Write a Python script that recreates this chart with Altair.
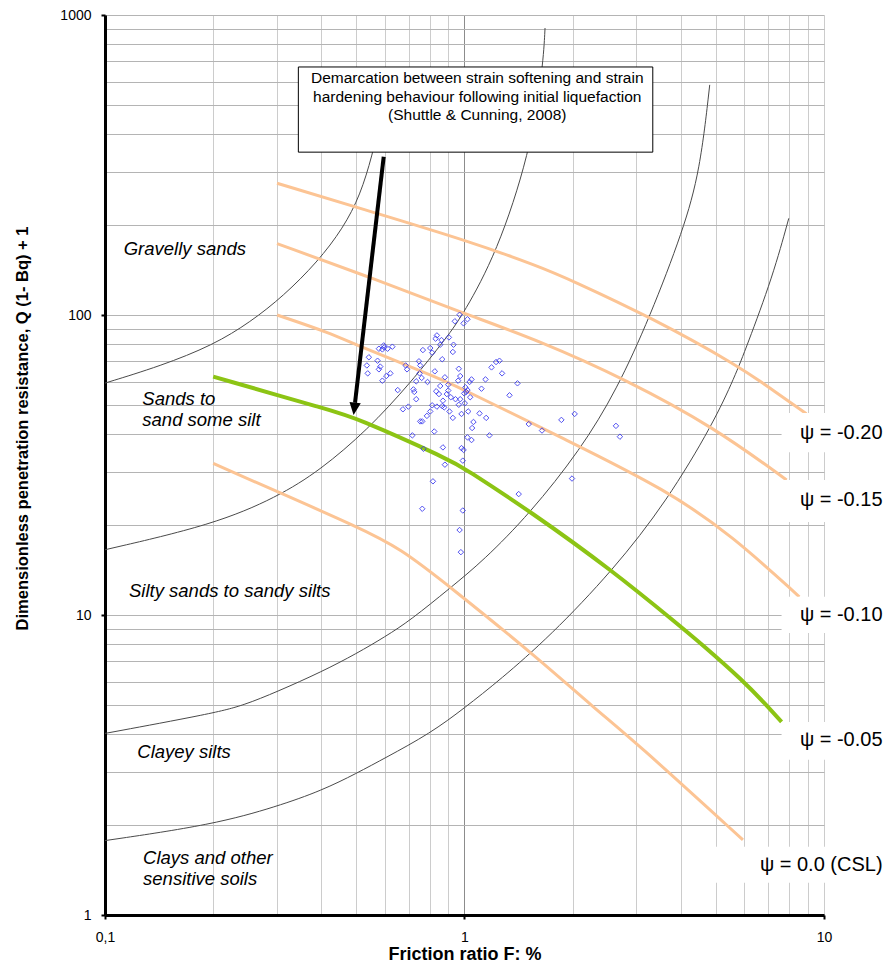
import altair as alt
import pandas as pd

# ---------------- data ----------------
x_grid = [0.1, 0.2, 0.3, 0.4, 0.5, 0.6, 0.7, 0.8, 0.9, 1, 2, 3, 4, 5, 6, 7, 8, 9, 10]
y_grid = [1, 2, 3, 4, 5, 6, 7, 8, 9, 10, 20, 30, 40, 50, 60, 70, 80, 90,
          100, 200, 300, 400, 500, 600, 700, 800, 900, 1000]

# soil-type boundaries (black)
curve_a_x = [0.1, 0.1428, 0.2, 0.254, 0.3135, 0.39, 0.46, 0.513, 0.554, 0.583]
curve_a_y = [59.3, 67.6, 79.4, 94.8, 115.7, 150.2, 195, 251, 341, 447]
curve_b_x = [0.1, 0.2, 0.301, 0.397, 0.537, 0.707, 0.895, 0.994, 1.23, 1.52, 1.654, 1.675]
curve_b_y = [16.5, 20, 24.7, 30.4, 41.4, 59.3, 84.5, 101, 161, 346, 671, 905]
curve_c_x = [0.1, 0.2, 0.243, 0.301, 0.401, 0.502, 0.602, 0.707, 0.912, 1.13, 1.52,
             2.10, 2.65, 3.28, 4.06, 4.52, 4.81]
curve_c_y = [4.03, 4.7, 5.0, 5.55, 6.47, 7.45, 8.47, 9.6, 12.3, 15.2, 21.8,
             35.5, 56.2, 98.6, 192, 303, 585]
curve_d_x = [0.1, 0.2, 0.301, 0.401, 0.502, 0.602, 0.803, 1.0, 1.256, 1.73, 2.59,
             3.65, 4.92, 5.65, 6.09, 7.21, 7.98]
curve_d_y = [1.77, 2.0, 2.3, 2.6, 2.97, 3.34, 4.03, 4.9, 6.08, 8.5, 14.1,
             23.9, 43.5, 62.4, 78.3, 135, 210]

# state parameter lines (orange)
psi20_x = [0.301, 0.571, 1.0, 1.62, 1.97, 3.28, 5.83, 7.2, 8.93]
psi20_y = [275, 218, 178, 145, 131, 98.6, 67.3, 56.2, 46.9]
psi15_x = [0.301, 0.571, 1.0, 1.62, 2.83, 4.92, 7.87]
psi15_y = [173, 131, 101, 82, 60.7, 42.4, 28.2]
psi10_x = [0.301, 0.424, 0.50, 0.874, 1.0, 1.925, 3.65, 5.58, 8.54]
psi10_y = [100, 87, 79.4, 60.7, 56.2, 38.3, 26.1, 18.3, 11.5]
psi00_x = [0.2, 0.301, 0.502, 0.663, 0.912, 1.555, 2.33, 2.95, 5.95]
psi00_y = [32.0, 25.8, 19.7, 16.7, 12.4, 7.4, 4.82, 3.83, 1.78]
# demarcation line (green)
psi05_x = [0.2, 0.424, 0.492, 0.912, 1.0, 1.52, 2.59, 3.97, 4.51, 5.95, 6.92, 7.62]
psi05_y = [62.3, 48.1, 45.8, 32.9, 30.8, 22.2, 14.0, 9.2, 8.1, 6.05, 5.0, 4.4]

# CPT data points
pts_F = [0.969, 0.940, 0.994, 1.019, 0.838, 0.831, 0.905, 0.863, 0.856, 0.932,
         0.803, 0.766, 0.813, 0.928, 0.596, 0.591, 0.578, 0.611, 0.630, 0.598,
         0.542, 0.573, 0.535, 0.583, 0.578, 0.538, 0.686, 0.692, 0.747, 0.753,
         0.867, 0.827, 0.750, 0.760, 0.622, 0.606, 0.591, 0.734, 0.789, 0.882,
         0.964, 0.973, 0.960, 1.046, 1.033, 1.144, 1.189, 1.224, 1.251, 1.272,
         1.404, 1.334, 1.115, 1.006, 1.011, 1.019, 0.998, 1.037, 1.002, 1.024,
         0.981, 0.964, 0.901, 0.856, 0.834, 0.849, 0.901, 0.893, 0.916, 0.944,
         0.973, 0.871, 0.867, 0.878, 0.838, 0.813, 0.803, 0.786, 0.753, 0.763,
         0.721, 0.725, 0.734, 0.698, 0.674, 0.652, 0.908, 0.928, 1.059, 1.050,
         1.101, 1.149, 1.173, 1.019, 1.046, 0.824, 0.716, 0.769, 0.871, 0.882,
         0.981, 0.994, 0.989, 0.817, 0.763, 0.989, 0.969, 0.977, 1.415, 1.509,
         1.643, 1.860, 2.025, 1.991, 2.638, 2.706]
pts_Q = [100.2, 95.3, 93.8, 96.8, 85.5, 83.4, 84.2, 82.5, 79.6, 79.6,
         77.6, 76.4, 74.9, 75.3, 79.2, 76.8, 77.2, 77.2, 78.4, 78.0,
         72.3, 70.4, 67.9, 67.3, 65.9, 63.9, 67.9, 65.9, 70.1, 67.9,
         71.2, 64.9, 63.9, 61.7, 63.9, 62.6, 60.4, 60.1, 59.8, 62.0,
         66.2, 62.6, 60.4, 61.0, 59.8, 61.0, 66.9, 69.7, 70.4, 63.9,
         59.2, 54.0, 56.8, 57.4, 55.4, 56.2, 54.8, 53.2, 50.8, 47.7,
         46.8, 50.2, 58.6, 58.0, 55.7, 54.5, 56.0, 54.5, 53.2, 52.4,
         52.4, 51.8, 49.7, 49.2, 49.5, 50.0, 47.7, 46.1, 44.2, 44.2,
         56.5, 55.4, 52.4, 49.5, 48.5, 56.2, 47.7, 45.4, 44.0, 42.0,
         47.0, 45.4, 39.7, 39.1, 38.3, 40.9, 39.7, 35.8, 36.2, 31.7,
         36.0, 35.5, 32.7, 27.9, 22.6, 22.3, 19.2, 16.2, 25.3, 43.3,
         41.2, 44.7, 46.8, 28.5, 42.7, 39.3]

# text annotations
region_text = ["Gravelly sands", "Sands  to", "sand some silt", "Silty sands to sandy silts",
               "Clayey silts", "Clays and other", "sensitive soils"]
region_F = [0.1127, 0.127, 0.127, 0.1166, 0.123, 0.1276, 0.1276]
region_Q = [166, 52.5, 44.7, 12.05, 3.49, 1.55, 1.32]

psi_text = ["ψ = -0.20", "ψ = -0.15", "ψ = -0.10", "ψ = -0.05", "ψ = 0.0 (CSL)"]
psi_F = [14.55, 14.55, 14.55, 14.55, 14.55]
psi_Q = [40.4, 24.2, 10.0, 3.83, 1.47]
psi_box_F1 = [7.62, 7.62, 7.62, 7.62, 4.81]
psi_box_F2 = [15.0, 15.0, 15.0, 15.0, 15.0]
psi_box_Q1 = [34.9, 20.4, 8.71, 3.29, 1.28]
psi_box_Q2 = [47.1, 28.2, 11.5, 4.40, 1.69]

note_lines = ["Demarcation between strain softening and strain",
              "hardening behaviour following initial liquefaction",
              "(Shuttle  & Cunning, 2008)"]
note_F = [1.085, 1.085, 1.085]
note_Q = [592, 514, 447]
note_box_F = [0.345, 3.34]
note_box_Q = [349, 671]

arrow_F = [0.596, 0.496]
arrow_Q = [337, 51]
arrow_tip_F = [0.4915]
arrow_tip_Q = [46.4]

# ---------------- frames ----------------
def series(xs, ys, name):
    return pd.DataFrame({"F": xs, "Q": ys, "curve": name, "ord": list(range(len(xs)))})

bounds = pd.concat([series(curve_a_x, curve_a_y, "A"), series(curve_b_x, curve_b_y, "B"),
                    series(curve_c_x, curve_c_y, "C"), series(curve_d_x, curve_d_y, "D")])
psis = pd.concat([series(psi20_x, psi20_y, "p20"), series(psi15_x, psi15_y, "p15"),
                  series(psi10_x, psi10_y, "p10"), series(psi00_x, psi00_y, "p00")])
green = series(psi05_x, psi05_y, "p05")
pts = pd.DataFrame({"F": pts_F, "Q": pts_Q})
regions = pd.DataFrame({"F": region_F, "Q": region_Q, "t": region_text})
psi_lab = pd.DataFrame({"F": psi_F, "Q": psi_Q, "t": psi_text,
                        "F1": psi_box_F1, "F2": psi_box_F2, "Q1": psi_box_Q1, "Q2": psi_box_Q2})
note = pd.DataFrame({"F": note_F, "Q": note_Q, "t": note_lines})
note_box = pd.DataFrame({"F1": [note_box_F[0]], "F2": [note_box_F[1]],
                         "Q1": [note_box_Q[0]], "Q2": [note_box_Q[1]]})
arrow = pd.DataFrame({"F1": [arrow_F[0]], "F2": [arrow_F[1]], "Q1": [arrow_Q[0]], "Q2": [arrow_Q[1]]})
tip = pd.DataFrame({"F": arrow_tip_F, "Q": arrow_tip_Q})

# ---------------- scales / axes ----------------
FONT = "Liberation Sans"
xs = alt.Scale(type="log", domain=[0.1, 10], nice=False)
ys = alt.Scale(type="log", domain=[1, 1000], nice=False)

x_major = "datum.value == 0.1 || datum.value == 1 || datum.value == 10"
y_major = "datum.value == 1 || datum.value == 10 || datum.value == 100 || datum.value == 1000"

x_axis = alt.Axis(
    values=x_grid, grid=True,
    gridColor={"condition": {"test": "datum.value == 1", "value": "#8c8c8c"}, "value": "#cccccc"},
    gridWidth=1,
    tickColor={"condition": {"test": x_major, "value": "black"}, "value": "transparent"},
    tickSize=4, tickWidth=2,
    domainColor="black", domainWidth=3,
    labelExpr="datum.value == 0.1 ? '0,1' : ((datum.value == 1 || datum.value == 10) ? '' + datum.value : '')",
    labelFont=FONT, labelFontSize=14, labelColor="black", labelPadding=11,
    labelFlush=False, labelOverlap=False,
    title="Friction ratio F: %", titleFont=FONT, titleFontSize=18, titleFontWeight="bold",
    titleColor="black", titlePadding=1,
)
y_axis = alt.Axis(
    values=y_grid, grid=True, gridColor="#b4b4b4", gridWidth=1,
    tickColor={"condition": {"test": y_major, "value": "black"}, "value": "transparent"},
    tickSize=4, tickWidth=2,
    domainColor="black", domainWidth=3,
    labelExpr=f"({y_major}) ? '' + datum.value : ''",
    labelFont=FONT, labelFontSize=14, labelColor="black", labelPadding=10,
    labelOverlap=False,
    title="Dimensionless penetration resistance, Q (1- Bq) + 1",
    titleFont=FONT, titleFontSize=16.5, titleFontWeight="bold", titleColor="black",
    titlePadding=29, titleY=413,
)


def X(f="F"):
    return alt.X(f"{f}:Q", scale=xs, axis=x_axis)


def Y(f="Q"):
    return alt.Y(f"{f}:Q", scale=ys, axis=y_axis)


bound_layer = alt.Chart(bounds).mark_line(color="#4a4a4a", strokeWidth=1, interpolate="basis").encode(
    x=X(), y=Y(), detail="curve:N", order="ord:Q")

psi_layer = alt.Chart(psis).mark_line(color="#fcc494", strokeWidth=3, interpolate="basis").encode(
    x=X(), y=Y(), detail="curve:N", order="ord:Q")

green_layer = alt.Chart(green).mark_line(color="#8cc414", strokeWidth=4, interpolate="basis").encode(
    x=X(), y=Y(), order="ord:Q")

pts_layer = alt.Chart(pts).mark_point(shape="diamond", size=30, filled=False, color="#3434f0",
                                      strokeWidth=1, opacity=0.85).encode(x=X(), y=Y())

note_box_layer = alt.Chart(note_box).mark_rect(fill="white", stroke="black", strokeWidth=1).encode(
    x=X("F1"), x2="F2:Q", y=Y("Q1"), y2="Q2:Q")
note_text_layer = alt.Chart(note).mark_text(font=FONT, fontSize=15.5, color="black", align="center",
                                            baseline="alphabetic").encode(x=X(), y=Y(), text="t:N")

arrow_layer = alt.Chart(arrow).mark_rule(color="black", strokeWidth=4).encode(
    x=X("F1"), x2="F2:Q", y=Y("Q1"), y2="Q2:Q")
tip_layer = alt.Chart(tip).mark_point(shape="M0,0L-1,-2.2L1,-2.2Z", size=130, filled=True,
                                      color="black", opacity=1, angle=7).encode(x=X(), y=Y())

psi_box_layer = alt.Chart(psi_lab).mark_rect(fill="white").encode(
    x=X("F1"), x2="F2:Q", y=Y("Q1"), y2="Q2:Q")
psi_text_layer = alt.Chart(psi_lab).mark_text(font=FONT, fontSize=20, color="black", align="right",
                                              baseline="middle").encode(x=X(), y=Y(), text="t:N")

region_layer = alt.Chart(regions).mark_text(font=FONT, fontSize=18.5, fontStyle="italic", color="black",
                                            align="left", baseline="middle").encode(x=X(), y=Y(), text="t:N")

chart = alt.layer(
    bound_layer, psi_layer, green_layer, pts_layer,
    note_box_layer, note_text_layer, arrow_layer, tip_layer,
    psi_box_layer, psi_text_layer, region_layer,
).properties(
    width=719, height=900,
    autosize=alt.AutoSizeParams(type="none"),
    padding={"left": 105, "top": 15, "right": 64, "bottom": 52},
    background="white",
).configure_view(strokeWidth=0)

chart.save("out.html", embed_options={"renderer": "svg", "actions": False})
